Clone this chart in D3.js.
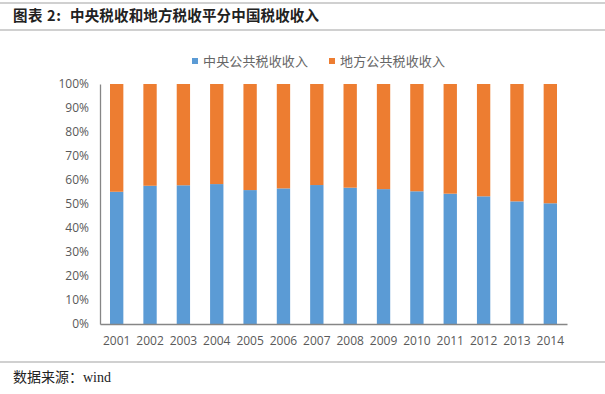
<!DOCTYPE html>
<html>
<head>
<meta charset="utf-8">
<script src="https://cdn.jsdelivr.net/npm/d3@7"></script>
<style>
  body { margin: 0; background: #fff; }
  svg { display: block; }
</style>
</head>
<body>
<div id="chart"></div>
<script>
// data
var years = ["2001", "2002", "2003", "2004", "2005", "2006", "2007",
             "2008", "2009", "2010", "2011", "2012", "2013", "2014"];
var central = [55.1, 57.6, 57.8, 58.3, 55.8, 56.5, 57.9,
               56.8, 56.2, 55.3, 54.3, 53.2, 51.1, 50.3];
var local = central.map(function(d) { return 100 - d; });
var seriesNames = ["中央公共税收收入", "地方公共税收收入"];
var seriesColors = ["#5B9BD5", "#ED7D31"];
var yTicks = [0, 10, 20, 30, 40, 50, 60, 70, 80, 90, 100];

var W = 605, H = 394;
var margin = { left: 100, right: 38, top: 84, bottom: 70 };
var width = W - margin.left - margin.right,
    height = H - margin.top - margin.bottom;

var cjk = "'Noto Sans CJK SC', sans-serif";

var svg = d3.select("#chart").append("svg")
    .attr("width", W)
    .attr("height", H);

// title block
svg.append("line").attr("x1", 0).attr("x2", W).attr("y1", 3).attr("y2", 3)
    .attr("stroke", "#d0d0d0").attr("stroke-width", 2);
svg.append("line").attr("x1", 0).attr("x2", W).attr("y1", 30).attr("y2", 30)
    .attr("stroke", "#d0d0d0").attr("stroke-width", 2);
svg.append("text")
    .attr("x", 13).attr("y", 21)
    .attr("textLength", 48)
    .style("font-family", cjk)
    .style("font-size", "14.5px")
    .style("font-weight", "bold")
    .attr("fill", "#222")
    .text("图表 2:");
svg.append("text")
    .attr("x", 70).attr("y", 21)
    .attr("textLength", 249)
    .style("font-family", cjk)
    .style("font-size", "14.5px")
    .style("font-weight", "bold")
    .attr("fill", "#222")
    .text("中央税收和地方税收平分中国税收收入");

// footer
svg.append("line").attr("x1", 0).attr("x2", W).attr("y1", 362).attr("y2", 362)
    .attr("stroke", "#d0d0d0").attr("stroke-width", 2);
var src = svg.append("text")
    .attr("x", 13).attr("y", 382)
    .style("font-size", "14px")
    .attr("fill", "#222");
src.append("tspan").style("font-family", cjk).text("数据来源：");
src.append("tspan").style("font-family", "'Liberation Serif', serif").text("wind");

// legend
var legend = svg.append("g").attr("class", "legend");
var legX = [192, 329];
seriesNames.forEach(function(name, i) {
    legend.append("rect")
        .attr("x", legX[i]).attr("y", 58)
        .attr("width", 6).attr("height", 6)
        .attr("fill", seriesColors[i]);
    legend.append("text")
        .attr("x", legX[i] + 11).attr("y", 65.5)
        .attr("textLength", 105)
        .style("font-family", cjk)
        .style("font-size", "13px")
        .attr("fill", "#666")
        .text(name);
});

var g = svg.append("g")
    .attr("class", "main-group")
    .attr("transform", "translate(" + margin.left + "," + margin.top + ")");

var x = d3.scaleBand()
    .domain(years)
    .range([0, width])
    .paddingInner(0.6)
    .paddingOuter(0.3);

var y = d3.scaleLinear()
    .domain([0, 100])
    .range([height, 0]);

var table = years.map(function(yr, i) {
    return { year: yr, central: central[i], local: local[i] };
});
var stacked = d3.stack().keys(["central", "local"])(table);

g.selectAll("g.layer")
    .data(stacked)
    .enter().append("g")
    .attr("class", "layer")
    .attr("fill", function(d, i) { return seriesColors[i]; })
    .selectAll("rect")
    .data(function(d) { return d; })
    .enter().append("rect")
    .attr("x", function(d) { return x(d.data.year); })
    .attr("width", x.bandwidth())
    .attr("y", function(d) { return y(d[1]); })
    .attr("height", function(d) { return y(d[0]) - y(d[1]); });

// axes
var yAxis = g.append("g").attr("class", "myYaxis")
    .call(d3.axisLeft(y).tickValues(yTicks).tickSize(0).tickPadding(11)
        .tickFormat(function(d) { return d + "%"; }));
yAxis.select(".domain").attr("stroke", "#868686").attr("stroke-width", 1.3);

var xAxis = g.append("g").attr("class", "myXaxis")
    .attr("transform", "translate(0," + height + ")")
    .call(d3.axisBottom(x).tickSize(0).tickPadding(12));
xAxis.select(".domain").attr("stroke", "#868686").attr("stroke-width", 1.3);

g.selectAll(".myYaxis text, .myXaxis text")
    .style("font-family", "'Open Sans', 'Noto Sans', sans-serif")
    .style("font-size", "12px")
    .attr("fill", "#595959");
</script>
</body>
</html>
